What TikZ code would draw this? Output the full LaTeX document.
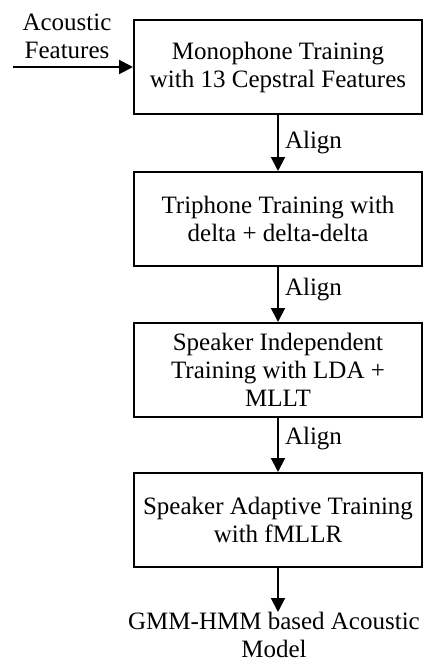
\documentclass[tikz,border=0pt]{standalone}
\usepackage{fontspec}
\setmainfont{Liberation Serif}
\usetikzlibrary{arrows.meta,positioning}
\tikzset{
    % Base style for the text
    modern base/.style={
        font=\fontsize{25}{28}\selectfont,
        align=center,
    },
    % Training stages - plain rectangle
    process/.style={
        modern base,
        rectangle,
        draw=black,
        line width=2pt,
        minimum width=288pt,
        minimum height=94pt,
        inner sep=2pt,
    },
    % Arrow style - filled triangle tip
    arrow/.style={
        -{Triangle[length=14pt, width=14pt]},
        line width=2pt,
    },
    % Label style for Align
    edge label/.style={
        modern base,
        anchor=west,
        inner sep=0pt,
    },
}
\begin{document}
\begin{tikzpicture}[x=1pt, y=1pt, node distance=55pt]
    \useasboundingbox (0,0) rectangle (423,-664);
    \node (mono) [process] at (278,-67) {Monophone Training\\with 13 Cepstral Features};
    \node (tri) [process, below=56pt of mono] {Triphone Training with\\delta + delta-delta};
    \node (sit) [process, below=of tri] {Speaker Independent\\Training with LDA +\\MLLT};
    \node (sat) [process, below=54pt of sit] {Speaker Adaptive Training\\with fMLLR};
    \node (model) [modern base, inner sep=0pt, below=44pt of sat, xshift=-4pt] {GMM-HMM based Acoustic\\Model};
    \node (feat) [modern base, inner sep=0pt] at (67,-36) {Acoustic\\Features};
    \coordinate (in) at (13,-67);

    \draw [arrow] (in) -- (mono);
    \draw [arrow] (mono) -- node[edge label, xshift=6pt] {Align} (tri);
    \draw [arrow] (tri) -- node[edge label, xshift=6pt, yshift=5pt] {Align} (sit);
    \draw [arrow] (sit) -- node[edge label, xshift=6pt, yshift=6pt] {Align} (sat);
    \draw [arrow] (sat) -- (model.north -| sat.south);
\end{tikzpicture}
\end{document}
